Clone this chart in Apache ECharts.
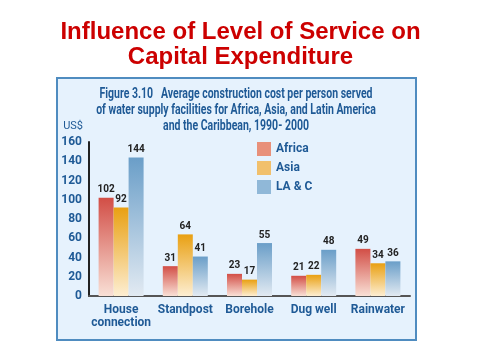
<!DOCTYPE html>
<html>
<head>
<meta charset="utf-8">
<script src="https://cdn.jsdelivr.net/npm/echarts@6/dist/echarts.min.js"></script>
<style>
html,body{margin:0;padding:0;background:#fff;}
#chart{width:481px;height:361px;}
</style>
</head>
<body>
<div id="chart"></div>
<script>
const categories = ['House\nconnection', 'Standpost', 'Borehole', 'Dug well', 'Rainwater'];
const africa = [102, 31, 23, 21, 49];
const asia = [92, 64, 17, 22, 34];
const lac = [144, 41, 55, 48, 36];
const seriesNames = ['Africa', 'Asia', 'LA & C'];
const yTicks = [0, 20, 40, 60, 80, 100, 120, 140, 160];

const FONT = "Roboto, 'Liberation Sans', sans-serif";
const BLUE = '#1f5a96';

function grad(top, bottom) {
  return new echarts.graphic.LinearGradient(0, 0, 0, 1, [
    {offset: 0, color: top},
    {offset: 1, color: bottom}
  ]);
}

const chart = echarts.init(document.getElementById('chart'), null, {renderer: 'canvas'});
const option = {
  backgroundColor: '#ffffff',
  animation: false,
  title: {
    text: 'Influence of Level of Service on\nCapital Expenditure',
    left: 'center',
    top: 15,
    textStyle: {
      fontFamily: "'Liberation Sans', Arial, sans-serif",
      fontWeight: 'bold',
      fontSize: 24,
      lineHeight: 25,
      color: '#cc0000'
    }
  },
  graphic: [
    {
      type: 'rect',
      z: -10,
      shape: {x: 57, y: 78, width: 359, height: 262},
      style: {fill: '#e6f2fd', stroke: '#4f8cc0', lineWidth: 2}
    },
    {
      type: 'text',
      x: 236,
      y: 86,
      scaleX: 0.75,
      z: 5,
      style: {
        text: 'Figure 3.10   Average construction cost per person served\nof water supply facilities for Africa, Asia, and Latin America\nand the Caribbean, 1990- 2000',
        align: 'center',
        fontFamily: FONT,
        fontWeight: 'bold',
        fontSize: 14,
        lineHeight: 16,
        fill: BLUE
      }
    }
  ],
  legend: {
    orient: 'vertical',
    left: 252,
    top: 137,
    itemWidth: 14,
    itemHeight: 14,
    itemGap: 5,
    icon: 'rect',
    data: [
      {name: seriesNames[0], itemStyle: {color: '#e8907a'}},
      {name: seriesNames[1], itemStyle: {color: '#f1c06c'}},
      {name: seriesNames[2], itemStyle: {color: '#90b8d8'}}
    ],
    textStyle: {fontFamily: FONT, fontWeight: 'bold', fontSize: 12, color: BLUE}
  },
  grid: {left: 89, right: 71, top: 142, bottom: 65},
  xAxis: {
    type: 'category',
    data: categories,
    axisLine: {lineStyle: {color: '#555', width: 2}},
    axisTick: {show: false},
    axisLabel: {
      fontFamily: FONT, fontWeight: 'bold', fontSize: 12, lineHeight: 13,
      color: BLUE, margin: 7, interval: 0
    }
  },
  yAxis: {
    type: 'value',
    min: 0,
    max: 160,
    interval: 20,
    name: 'US$',
    nameLocation: 'end',
    nameGap: 10,
    nameTextStyle: {fontFamily: FONT, fontSize: 11, color: BLUE, align: 'right', padding: [0, 6, 0, 0]},
    axisLine: {show: true, lineStyle: {color: '#222', width: 2}},
    axisTick: {show: false},
    splitLine: {show: false},
    axisLabel: {
      fontFamily: FONT, fontWeight: 'bold', fontSize: 12, color: BLUE, margin: 7,
      formatter: v => yTicks.includes(v) ? String(v) : ''
    }
  },
  series: [
    {
      name: seriesNames[0], type: 'bar', data: africa, barWidth: 15, barGap: '0%',
      itemStyle: {color: grad('#d24e46', '#f9e0d6')},
      label: {show: true, position: 'top', distance: 3, fontFamily: FONT, fontWeight: 'bold', fontSize: 10, color: '#222'}
    },
    {
      name: seriesNames[1], type: 'bar', data: asia, barWidth: 15, barGap: '0%',
      itemStyle: {color: grad('#e9a012', '#fdeed2')},
      label: {show: true, position: 'top', distance: 3, fontFamily: FONT, fontWeight: 'bold', fontSize: 10, color: '#222'}
    },
    {
      name: seriesNames[2], type: 'bar', data: lac, barWidth: 15, barGap: '0%',
      itemStyle: {color: grad('#6a9ec8', '#e2eaf2')},
      label: {show: true, position: 'top', distance: 3, fontFamily: FONT, fontWeight: 'bold', fontSize: 10, color: '#222'}
    }
  ]
};
chart.setOption(option);
</script>
</body>
</html>
